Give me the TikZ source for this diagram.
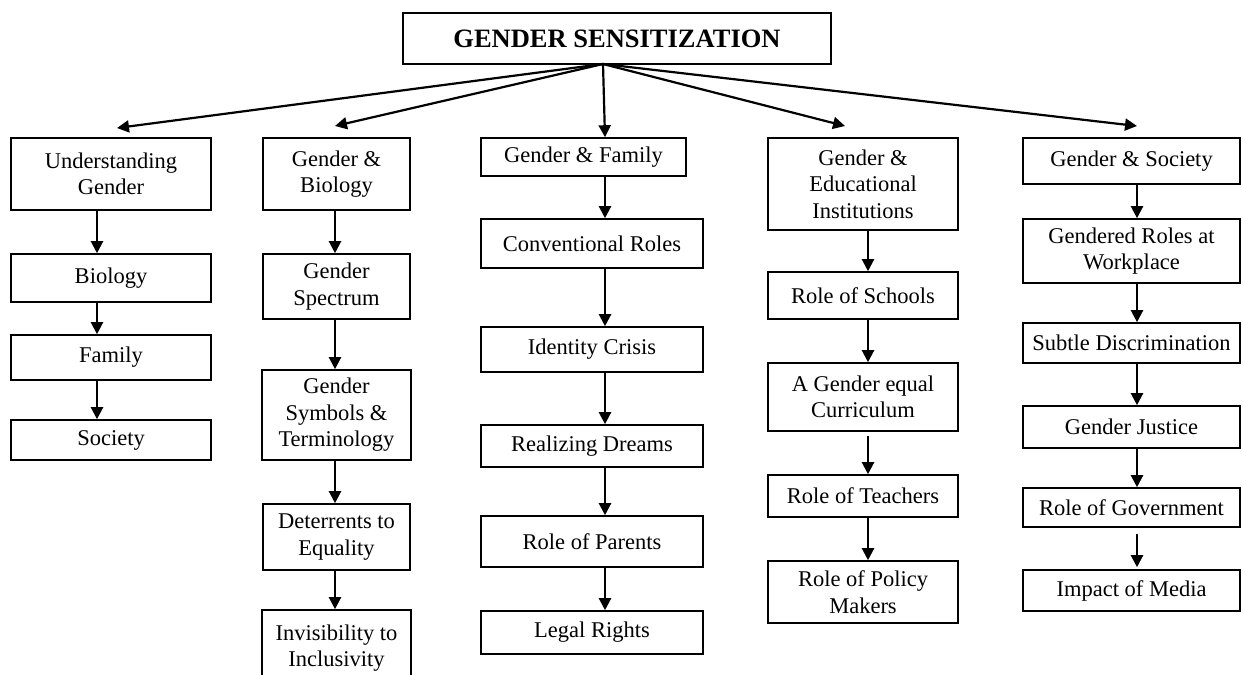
\documentclass[tikz,border=0pt]{standalone}
\usepackage{fontspec}
\setmainfont{Liberation Serif}
\usetikzlibrary{arrows.meta,calc}
\begin{document}
\begin{tikzpicture}[x=1pt,y=-1pt,
  box/.style={draw, line width=1.6pt, align=center, inner sep=0pt,
    font=\fontsize{22.5}{26.5}\selectfont},
  wh/.style 2 args={minimum width=#1pt, minimum height=#2pt},
  arr/.style={-{Triangle[length=12pt,width=12pt]}, line width=2.2pt},
]
\useasboundingbox (0,0) rectangle (1243,675);
\clip (0,0) rectangle (1243,675);

% title
\node[box, wh={428}{51}, font=\fontsize{26.5}{30}\selectfont\bfseries] (top) at (617,38.5) {GENDER SENSITIZATION};

% column spines (x positions of the vertical connectors)
\coordinate (s1) at (97,0);
\coordinate (s2) at (335,0);
\coordinate (s3) at (605,0);
\coordinate (s4) at (868,0);
\coordinate (s5) at (1137,0);

% column 1
\node[box, wh={200}{72}] (u1) at (111,174) {Understanding\\Gender};
\node[box, wh={200}{48}] (u2) at (111,278) {Biology};
\node[box, wh={200}{45}] (u3) at (111,357.5) {Family};
\node[box, wh={200}{40}] (u4) at (111,440) {Society};

% column 2
\node[box, wh={147}{72}] (b1) at (336.5,174) {Gender \&\\Biology};
\node[box, wh={147}{65}] (b2) at (336.5,286.5) {Gender\\Spectrum};
\node[box, wh={149}{90}] (b3) at (336.5,415) {Gender\\Symbols \&\\Terminology};
\node[box, wh={147}{66}] (b4) at (336.5,537) {Deterrents to\\Equality};
\node[box, wh={149}{76}] (b5) at (336.5,648) {Invisibility to\\Inclusivity};

% column 3
\node[box, wh={205}{38}] (f1) at (583.5,157) {Gender \& Family};
\node[box, wh={222}{49}] (f2) at (592,243.5) {Conventional Roles};
\node[box, wh={222}{45}] (f3) at (592,349.5) {Identity Crisis};
\node[box, wh={222}{42}] (f4) at (592,446) {Realizing Dreams};
\node[box, wh={222}{51}] (f5) at (592,541.5) {Role of Parents};
\node[box, wh={222}{43}] (f6) at (592,632.5) {Legal Rights};

% column 4
\node[box, wh={190}{92}] (e1) at (863,184) {Gender \&\\Educational\\Institutions};
\node[box, wh={190}{47}] (e2) at (863,295.5) {Role of Schools};
\node[box, wh={190}{68}] (e3) at (863,397) {A Gender equal\\Curriculum};
\node[box, wh={190}{42}] (e4) at (863,496) {Role of Teachers};
\node[box, wh={190}{62}] (e5) at (863,592) {Role of Policy\\Makers};

% column 5
\node[box, wh={217}{46}] (g1) at (1131.5,161) {Gender \& Society};
\node[box, wh={217}{64}] (g2) at (1131.5,251) {Gendered Roles at\\Workplace};
\node[box, wh={217}{40}] (g3) at (1131.5,343) {Subtle Discrimination};
\node[box, wh={217}{42}] (g4) at (1131.5,427) {Gender Justice};
\node[box, wh={217}{39}] (g5) at (1131.5,507.5) {Role of Government};
\node[box, wh={217}{41}] (g6) at (1131.5,590.5) {Impact of Media};

% fan-out from the title
\coordinate (hub) at (603,64);
\coordinate (t1) at (117,128);
\coordinate (t2) at (335,126);
\coordinate (t4) at (845,126);
\coordinate (t5) at (1137,126);
\draw[arr] (hub) -- (t1);
\draw[arr] (hub) -- (t2);
\draw[arr] (hub) -- (f1.north -| s3);
\draw[arr] (hub) -- (t4);
\draw[arr] (hub) -- (t5);

% column chains
\foreach \a/\b in {u1/u2,u2/u3,u3/u4}
  \draw[arr] (\a.south -| s1) -- (\b.north -| s1);
\foreach \a/\b in {b1/b2,b2/b3,b3/b4,b4/b5}
  \draw[arr] (\a.south -| s2) -- (\b.north -| s2);
\foreach \a/\b in {f1/f2,f2/f3,f3/f4,f4/f5,f5/f6}
  \draw[arr] (\a.south -| s3) -- (\b.north -| s3);
\foreach \a/\b in {e1/e2,e2/e3,e4/e5}
  \draw[arr] (\a.south -| s4) -- (\b.north -| s4);
\draw[arr, shorten <=4pt] (e3.south -| s4) -- (e4.north -| s4);
\foreach \a/\b in {g1/g2,g2/g3,g3/g4,g4/g5}
  \draw[arr] (\a.south -| s5) -- (\b.north -| s5);
\draw[arr, shorten <=6pt, shorten >=2pt] (g5.south -| s5) -- (g6.north -| s5);
\end{tikzpicture}
\end{document}
